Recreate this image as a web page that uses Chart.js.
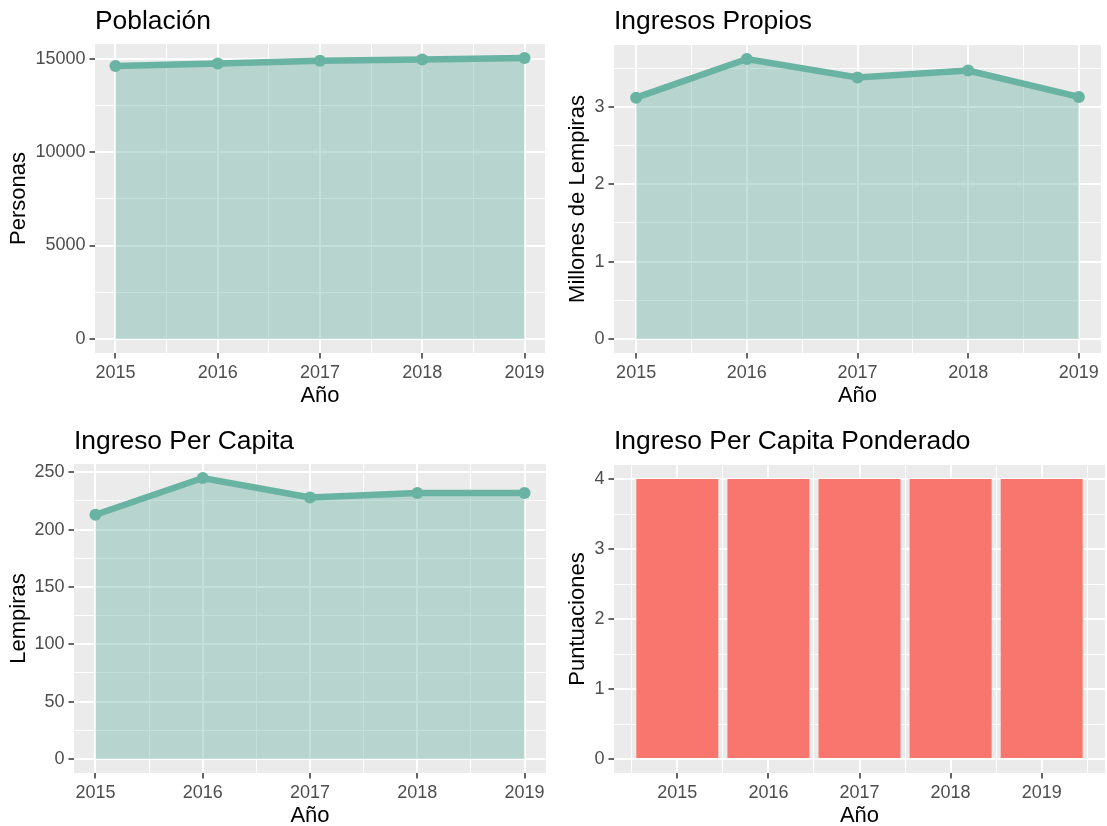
<!DOCTYPE html>
<html>
<head>
<meta charset="utf-8">
<title>Indicadores municipales</title>
<script src="https://cdn.jsdelivr.net/npm/chart.js@4.4.1/dist/chart.umd.min.js"></script>
<style>
  html, body { margin: 0; padding: 0; background: #fff; overflow: hidden; }
  #wrap { position: relative; width: 1107px; height: 826px; overflow: hidden; }
  #wrap canvas { position: absolute; }
</style>
</head>
<body>
<div id="wrap">
  <canvas id="cPoblacion" width="553" height="420" style="left:0;top:0"></canvas>
  <canvas id="cPropios" width="554" height="420" style="left:553px;top:0"></canvas>
  <canvas id="cPerCapita" width="553" height="420" style="left:0;top:420px"></canvas>
  <canvas id="cPonderado" width="554" height="420" style="left:553px;top:420px"></canvas>
</div>
<script>
// ---- data ----
const years = [2015, 2016, 2017, 2018, 2019];
const poblacion = [14610, 14740, 14880, 14950, 15030];
const ingresosPropios = [3.12, 3.62, 3.38, 3.47, 3.13];
const ingresoPerCapita = [213, 245, 228, 232, 232];
const puntuaciones = [4, 4, 4, 4, 4];

// tick labels
const poblacionTicks = [0, 5000, 10000, 15000];
const propiosTicks = [0, 1, 2, 3];
const perCapitaTicks = [0, 50, 100, 150, 200, 250];
const puntuacionTicks = [0, 1, 2, 3, 4];

const FONT = "'Liberation Sans', Arial, sans-serif";
const TEAL = '#69B3A2';
const TEAL_FILL = 'rgba(105, 179, 162, 0.4)';
const SALMON = '#F8766D';

// ggplot-style 5% expansion
function expand(lo, hi){
  const r = hi - lo;
  return [lo - 0.05 * r, hi + 0.05 * r];
}

function isMajor(v, majors){
  return majors.some(m => Math.abs(m - v) < 1e-6);
}

// majors plus the half-way minor lines, kept inside the axis range
function withMinors(majors, min, max){
  const step = majors[1] - majors[0];
  const vals = [];
  majors.forEach(m => { vals.push(m - step / 2, m, m + step / 2); });
  const uniq = [];
  vals.sort((a, b) => a - b).forEach(v => {
    if (v < min - 1e-9 || v > max + 1e-9) return;
    if (!uniq.length || Math.abs(uniq[uniq.length - 1] - v) > 1e-9) uniq.push(v);
  });
  return uniq;
}

const panelBg = {
  id: 'panelBg',
  beforeDraw(chart){
    const a = chart.chartArea, ctx = chart.ctx;
    ctx.save();
    ctx.fillStyle = '#EBEBEB';
    ctx.fillRect(a.left, a.top, a.right - a.left, a.bottom - a.top);
    ctx.restore();
  }
};

function axis(pos, range, majors, title, titlePad, fit){
  return {
    type: 'linear', position: pos, min: range[0], max: range[1], offset: false,
    afterBuildTicks: s => { s.ticks = withMinors(majors, s.min, s.max).map(v => ({ value: v })); },
    afterFit: fit,
    ticks: {
      autoSkip: false, maxRotation: 0, minRotation: 0, padding: 4,
      color: '#4D4D4D', font: { family: FONT, size: 18 },
      callback: v => isMajor(v, majors) ? String(v) : ''
    },
    grid: {
      offset: false, color: '#FFFFFF',
      lineWidth: c => (c.tick && isMajor(c.tick.value, majors)) ? 2 : 1,
      drawTicks: true, tickLength: 5.5, tickWidth: 1.5,
      tickColor: c => (c.tick && isMajor(c.tick.value, majors)) ? '#333333' : 'rgba(0,0,0,0)'
    },
    border: { display: false },
    title: {
      display: true, text: title, color: '#000000',
      font: { family: FONT, size: 22 },
      padding: pos === 'bottom' ? { top: 0, bottom: titlePad } : { top: titlePad, bottom: 0 }
    }
  };
}

function panel(id, box, cfg){
  const canvas = document.getElementById(id);
  const H = canvas.height;
  const titleLine = 26.4 * 1.2;
  return new Chart(canvas, {
    type: cfg.type,
    data: { datasets: [cfg.dataset] },
    options: {
      responsive: false, animation: false,
      layout: { padding: { left: 0, top: 0, bottom: 0, right: canvas.width - box.right } },
      plugins: {
        legend: { display: false },
        tooltip: { enabled: false },
        title: {
          display: true, text: cfg.title, align: 'start', fullSize: false,
          color: '#000000', font: { family: FONT, size: 26.4, weight: 'normal' },
          padding: { top: 6.2, bottom: box.top - titleLine - 6.2 }
        }
      },
      scales: {
        x: axis('bottom', cfg.xRange, years, 'Año', 10.8, s => { s.height = H - box.bottom; }),
        y: axis('left', cfg.yRange, cfg.yTicks, cfg.yTitle, box.yTitle - 13.2, s => { s.width = box.left; })
      }
    },
    plugins: [panelBg]
  });
}

function areaSet(values){
  return {
    data: years.map((x, i) => ({ x: x, y: values[i] })),
    borderColor: TEAL, borderWidth: 6.5, backgroundColor: TEAL_FILL,
    fill: 'origin', tension: 0,
    pointRadius: 6, pointBackgroundColor: TEAL, pointBorderWidth: 0, pointHoverRadius: 6
  };
}

const lineX = expand(Math.min(...years), Math.max(...years));
const barX = expand(Math.min(...years) - 0.45, Math.max(...years) + 0.45);

panel('cPoblacion', { left: 95, top: 44, right: 545, bottom: 353, yTitle: 19 }, {
  type: 'line', title: 'Población', yTitle: 'Personas',
  xRange: lineX, yRange: expand(0, Math.max(...poblacion)), yTicks: poblacionTicks,
  dataset: areaSet(poblacion)
});

panel('cPropios', { left: 61, top: 45, right: 552, bottom: 353, yTitle: 25 }, {
  type: 'line', title: 'Ingresos Propios', yTitle: 'Millones de Lempiras',
  xRange: lineX, yRange: expand(0, Math.max(...ingresosPropios)), yTicks: propiosTicks,
  dataset: areaSet(ingresosPropios)
});

panel('cPerCapita', { left: 74, top: 44, right: 546, bottom: 353, yTitle: 19 }, {
  type: 'line', title: 'Ingreso Per Capita', yTitle: 'Lempiras',
  xRange: lineX, yRange: expand(0, Math.max(...ingresoPerCapita)), yTicks: perCapitaTicks,
  dataset: areaSet(ingresoPerCapita)
});

panel('cPonderado', { left: 61, top: 45, right: 552, bottom: 353, yTitle: 25 }, {
  type: 'bar', title: 'Ingreso Per Capita Ponderado', yTitle: 'Puntuaciones',
  xRange: barX, yRange: expand(0, Math.max(...puntuaciones)), yTicks: puntuacionTicks,
  dataset: {
    data: years.map((x, i) => ({ x: x, y: puntuaciones[i] })),
    // the bar ruler measures the half-year minor ticks, so 1.8 of that = 0.9 year
    backgroundColor: SALMON, barPercentage: 1.8, categoryPercentage: 1.0, borderWidth: 0
  }
});
</script>
</body>
</html>
